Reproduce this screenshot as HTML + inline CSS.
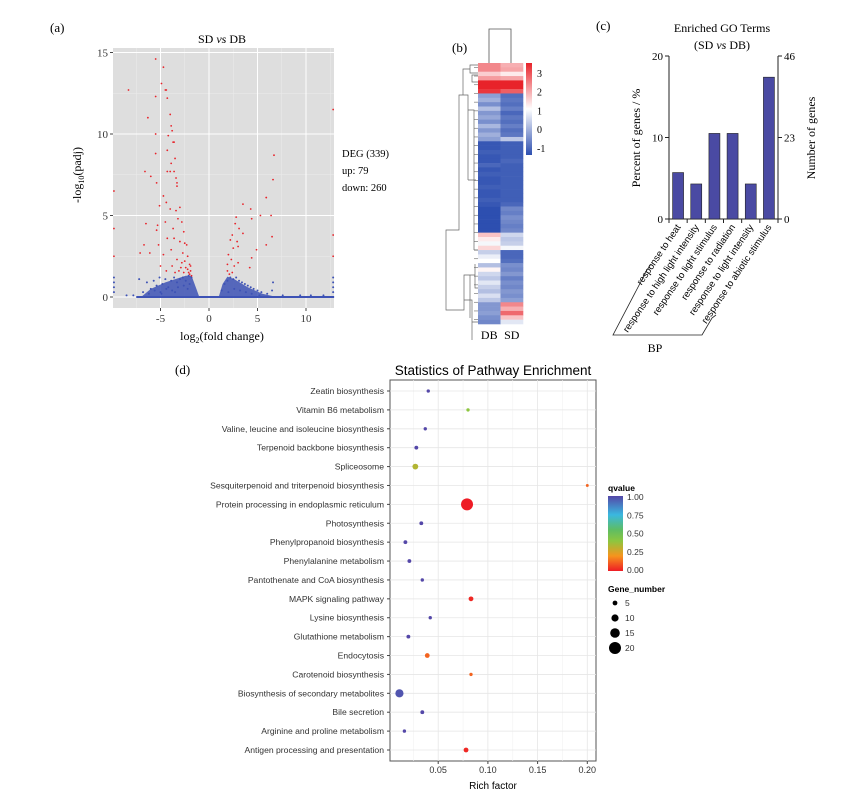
<!DOCTYPE html>
<html><head><meta charset="utf-8"><style>
body{margin:0;background:#fff}
svg{display:block}
.serif{font-family:"Liberation Serif",serif}
.sans{font-family:"Liberation Sans",sans-serif}
</style></head><body>
<svg id="fig" width="843" height="798" viewBox="0 0 843 798" xmlns="http://www.w3.org/2000/svg">
<defs>
<linearGradient id="hmGrad" x1="0" y1="1" x2="0" y2="0">
<stop offset="0" stop-color="#2d4fb0"/><stop offset="0.5" stop-color="#ffffff"/><stop offset="1" stop-color="#e8232a"/>
</linearGradient>
<linearGradient id="qGrad" x1="0" y1="1" x2="0" y2="0">
<stop offset="0" stop-color="#ee1c25"/><stop offset="0.2" stop-color="#f7941d"/><stop offset="0.4" stop-color="#8dc63f"/><stop offset="0.55" stop-color="#5ebd63"/><stop offset="0.75" stop-color="#3ab8e0"/><stop offset="1" stop-color="#5447a8"/>
</linearGradient>
</defs>
<g id="panelA"></g>
<g id="panelB"></g>
<g id="panelC"></g>
<g id="panelD"></g>
</svg>
<script>
// ---------- Volcano data ----------
const volcanoRedX = [-5.5,-4.7,-4.9,-8.3,-4.5,-4.4,-5.5,-4.3,-6.3,-4,-3.9,-3.8,-4.2,-5.5,-3.7,-3.6,-5.5,-4.3,-3.5,-3.9,-6.6,-4.3,-4.0,-3.6,-6,-3.4,-5.4,-3.3,-3.3,-4.7,-4.4,-5.1,-3.0,-4.0,-3.4,-6.5,-5.3,-4.5,-3.2,-2.8,-5.4,-3.7,-2.6,-6.7,-4.3,-3.6,-3.0,-2.5,-2.3,-5.2,-3.9,-2.7,-2.2,-7.1,-6.1,-4.7,-3.3,-2.5,-2.0,-5.0,-3.8,-2.9,-2.2,-1.9,-4.4,-2.6,-2.0,-3.5,-1.8,-9.8,-9.8,-9.8,-2.4,-2.1,-1.9,-2.8,-3.1,
3.5,4.3,2.8,5.3,6.4,2.7,4.4,3.1,2.4,3.5,6.5,2.2,2.9,5.9,3.0,2.5,4.9,2.0,4.4,2.3,3.0,1.9,2.6,4.2,1.9,2.4,6.7,6.6,5.9,12.8,12.8,12.8,2.1];
const volcanoRedY = [14.6,14.1,13.1,12.7,12.7,12.7,12.3,12.2,11,11.2,10.5,10.2,9.9,10,9.5,9.5,8.8,9,8.5,8.2,7.7,7.7,7.7,7.7,7.4,7.3,7,6.8,7,6.2,5.8,5.6,5.5,5.4,5.3,4.5,4.4,4.6,4.8,4.6,4.1,4.2,4,3.2,3.6,3.6,3.4,3.3,3.2,3.2,2.9,2.7,2.5,2.7,2.7,2.6,2.3,2.2,2.0,1.9,1.9,1.8,1.7,1.6,1.6,1.5,1.4,1.5,1.3,6.5,4.2,2.5,1.8,1.5,1.9,2.1,1.6,
5.7,5.4,4.9,5,5,4.5,4.8,4.2,3.8,3.9,3.7,3.5,3.4,3.2,3.1,3,2.9,2.6,2.4,2.3,2.1,2.0,1.9,1.8,1.6,1.5,8.7,7.2,6.1,11.5,3.8,2.5,1.4];
const volcanoBlueX = [-7.2,-6.8,-6.4,-6.0,-5.7,-5.4,-5.1,-4.8,-4.5,-4.2,-3.9,-3.6,-3.3,-3.0,-2.7,-2.4,-2.1,-1.8,-6.2,-5.6,-5.0,-4.4,-3.8,-3.2,-2.6,-2.0,-4.9,-3.5,-2.2,-9.8,-9.8,-9.8,-9.8,-8.5,-7.8,
1.3,1.6,1.9,2.2,2.5,2.8,3.1,3.4,3.7,4.0,4.3,4.6,5.0,5.4,6.0,6.5,2.0,2.6,3.2,3.8,4.4,5.2,6.6,7.6,9.4,10.5,11.8,12.8,12.8,12.8,12.8];
const volcanoBlueY = [1.1,0.3,0.9,0.5,1.0,0.7,1.2,0.8,1.1,0.6,1.0,1.2,0.9,1.1,1.2,1.0,1.3,1.2,0.2,0.4,0.3,0.5,0.4,0.6,0.7,0.8,0.2,0.3,0.5,1.2,0.9,0.6,0.3,0.1,0.1,
0.4,0.8,1.0,1.2,1.1,1.2,1.0,0.9,0.8,0.7,0.6,0.5,0.4,0.3,0.2,0.4,0.3,0.5,0.4,0.3,0.2,0.1,0.9,0.1,0.1,0.1,0.1,1.2,0.9,0.6,0.3];
const volcanoXTicks = [-5,0,5,10];
const volcanoYTicks = [0,5,10,15];

// ---------- Heatmap data ----------
const heatDB = [2.2,2.2,1.5,2.0,3.2,3.2,3.0,-0.2,0.0,-0.4,0.2,-0.3,-0.1,-0.4,0.1,-0.3,0.0,-0.2,-1.1,-1.1,-1.0,-1.1,-1.1,-0.9,-1.1,-1.0,-1.1,-1.1,-1.0,-1.1,-1.1,-1.0,-1.1,-1.3,-1.3,-1.3,-1.3,-1.3,-1.3,1.6,1.2,0.9,1.4,0.4,0.8,1.0,0.2,1.1,0.5,0.3,0.7,0.4,0.2,0.6,0.3,-0.3,-0.3,-0.2,-0.4,-0.5];
const heatSD = [1.8,1.9,1.2,1.9,3.3,3.3,2.6,-0.8,-0.7,-0.8,-0.6,-0.9,-0.7,-0.8,-0.6,-0.8,-0.7,0.3,-1.0,-1.0,-1.0,-1.0,-0.9,-1.0,-1.0,-1.0,-1.0,-1.0,-1.0,-1.0,-1.0,-1.0,-0.9,-0.5,-0.6,-0.4,-0.5,-0.6,-0.5,0.5,0.3,0.4,0.9,-0.9,-0.9,-0.8,-0.4,-0.5,-0.3,-0.6,-0.4,-0.5,-0.3,-0.4,-0.2,2.2,1.8,2.5,1.6,0.7];
const heatCols = ["DB","SD"];
const heatTicks = [3,2,1,0,-1];

// ---------- GO bar data ----------
const goTerms = ["response to heat","response to high light intensity","response to light stimulus","response to radiation","response to light intensity","response to abiotic stimulus"];
const goPercent = [5.7,4.3,10.5,10.5,4.3,17.4];
const goLeftTicks = [0,10,20];
const goRightTicks = ["0","23","46"];

// ---------- Pathway data ----------
const pathNames = ["Zeatin biosynthesis","Vitamin B6 metabolism","Valine, leucine and isoleucine biosynthesis","Terpenoid backbone biosynthesis","Spliceosome","Sesquiterpenoid and triterpenoid biosynthesis","Protein processing in endoplasmic reticulum","Photosynthesis","Phenylpropanoid biosynthesis","Phenylalanine metabolism","Pantothenate and CoA biosynthesis","MAPK signaling pathway","Lysine biosynthesis","Glutathione metabolism","Endocytosis","Carotenoid biosynthesis","Biosynthesis of secondary metabolites","Bile secretion","Arginine and proline metabolism","Antigen processing and presentation"];
const pathRich = [0.040,0.080,0.037,0.028,0.027,0.200,0.079,0.033,0.017,0.021,0.034,0.083,0.042,0.020,0.039,0.083,0.011,0.034,0.016,0.078];
const pathQ = [1.0,0.4,1.0,1.0,0.33,0.12,0.0,1.0,1.0,1.0,1.0,0.02,1.0,1.0,0.12,0.12,0.97,1.0,1.0,0.02];
const pathGenes = [2,2,2,3,7,1,20,3,3,3,2,5,2,3,5,2,12,3,2,5];
const pathXTicks = [0.05,0.10,0.15,0.20];
const pathXTickLabels = ["0.05","0.10","0.15","0.20"];
const qLegendTicks = ["1.00","0.75","0.50","0.25","0.00"];
const geneLegend = [5,10,15,20];

const NS = "http://www.w3.org/2000/svg";
function mk(parent, tag, attrs, text){
  const e = document.createElementNS(NS, tag);
  for (const k in attrs) e.setAttribute(k, attrs[k]);
  if (text !== undefined) e.textContent = text;
  parent.appendChild(e);
  return e;
}
const A = document.getElementById('panelA');
const B = document.getElementById('panelB');
const C = document.getElementById('panelC');
const D = document.getElementById('panelD');

// ================= Panel A: volcano =================
(function(){
  const x0=113,x1=334,y0=48,y1=308;
  const vx = v => 209 + v*9.7;
  const vy = v => 297 - v*16.3;
  let t;
  t = mk(A,'text',{x:50,y:32,'font-size':13,class:'serif'},'(a)');
  
  
  t = mk(A,'text',{x:222,y:43,'font-size':12,'text-anchor':'middle',class:'serif'});
  t.innerHTML = 'SD <tspan font-style="italic">vs</tspan> DB';
  
  
  const bg = mk(A,'rect',{x:x0,y:y0,width:x1-x0,height:y1-y0,fill:'#dedede'});
  
  
  for (let v=-7.5; v<=12.5; v+=5){ mk(A,'line',{x1:vx(v),x2:vx(v),y1:y0,y2:y1,stroke:'#ececec','stroke-width':0.5}); }
  for (let v=2.5; v<=12.5; v+=5){ mk(A,'line',{x1:x0,x2:x1,y1:vy(v),y2:vy(v),stroke:'#ececec','stroke-width':0.5}); }
  volcanoXTicks.forEach(v=>{
    const g = mk(A,'line',{x1:vx(v),x2:vx(v),y1:y0,y2:y1,stroke:'#fff','stroke-width':1});
    
    
    mk(A,'line',{x1:vx(v),x2:vx(v),y1:y1,y2:y1+3,stroke:'#444'});
    const l = mk(A,'text',{x:vx(v),y:y1+14,'font-size':11,'text-anchor':'middle',class:'serif',fill:'#333'},String(v));
    
    
  });
  volcanoYTicks.forEach(v=>{
    const g = mk(A,'line',{x1:x0,x2:x1,y1:vy(v),y2:vy(v),stroke:'#fff','stroke-width':1});
    
    
    mk(A,'line',{x1:x0-3,x2:x0,y1:vy(v),y2:vy(v),stroke:'#444'});
    const l = mk(A,'text',{x:x0-5,y:vy(v)+4,'font-size':11,'text-anchor':'end',class:'serif',fill:'#333'},String(v));
    
    
  });
  const massL = mk(A,'polygon',{points:[[-7,0],[-6,0.5],[-4.5,0.9],[-2.4,1.3],[-1.8,1.3],[-1.3,0.5],[-1.0,0]].map(p=>vx(p[0])+','+vy(p[1])).join(' '),fill:'#3d52b5','fill-opacity':0.85});
  
  
  const massR = mk(A,'polygon',{points:[[1.0,0],[1.4,0.8],[1.9,1.25],[2.6,1.1],[4,0.6],[5.5,0.2],[7,0]].map(p=>vx(p[0])+','+vy(p[1])).join(' '),fill:'#3d52b5','fill-opacity':0.85});
  
  
  const base = mk(A,'line',{x1:vx(-7.5),x2:vx(12.9),y1:vy(0),y2:vy(0),stroke:'#3d52b5','stroke-width':2});
  
  
  volcanoBlueX.forEach((v,i)=>{
    const c = mk(A,'circle',{cx:vx(v),cy:vy(volcanoBlueY[i]),r:1,fill:'#3d52b5'});
    
    
  });
  volcanoRedX.forEach((v,i)=>{
    const c = mk(A,'circle',{cx:vx(v),cy:vy(volcanoRedY[i]),r:0.9,fill:'#e8232a'});
    
    
  });
  t = mk(A,'text',{x:0,y:0,'font-size':12,'text-anchor':'middle',class:'serif',transform:'translate(81,175) rotate(-90)'});
  t.innerHTML='-log<tspan font-size="8" dy="3">10</tspan><tspan dy="-3">(padj)</tspan>';
  
  
  t = mk(A,'text',{x:222,y:340,'font-size':12,'text-anchor':'middle',class:'serif'});
  t.innerHTML='log<tspan font-size="8" dy="3">2</tspan><tspan dy="-3">(fold change)</tspan>';
  
  
  [['DEG (339)',157],['up: 79',174],['down: 260',191]].forEach(a=>{
    const l = mk(A,'text',{x:342,y:a[1],'font-size':10.5,class:'serif'},a[0]);
    
    
  });
})();

// ================= Panel B: heatmap =================
(function(){
  let t = mk(B,'text',{x:452,y:52,'font-size':13,class:'serif'},'(b)');
  
  
  const hx=478, cw=22.5, hy=63, rh=261/heatDB.length;
  function col(v){
    const f = Math.max(0,Math.min(1,(v+1.2)/4.4));
    const lo=[45,79,176], mid=[255,255,255], hi=[232,35,42];
    let a,b,u;
    if (f<0.5){a=lo;b=mid;u=f/0.5;} else {a=mid;b=hi;u=(f-0.5)/0.5;}
    return 'rgb('+a.map((c,i)=>Math.round(c+(b[i]-c)*u)).join(',')+')';
  }
  [heatDB,heatSD].forEach((arr,j)=>{
    arr.forEach((v,i)=>{
      const r = mk(B,'rect',{x:hx+j*cw,y:hy+i*rh,width:cw+0.3,height:rh+0.3,fill:col(v)});
      
      
    });
  });
  heatCols.forEach((c,j)=>{
    const l = mk(B,'text',{x:hx+j*cw+cw/2,y:339,'font-size':12,'text-anchor':'middle',class:'serif'},c);
    
    
  });
  const cd = mk(B,'path',{d:'M489,63 V29 H511 V63',fill:'none',stroke:'#555','stroke-width':0.8});
  
  
  const rd = mk(B,'path',{d:'M478,65 H470 V73 H478 M470,69 H463 V95 H468 V180 M478,75 H472 V82 H478 M463,95 H459 V230 H446 V310 H459 M468,110 H474 V250 M468,180 H471 M474,250 H478 M471,180 H476 M459,310 H464 V275 H470 V318 M464,300 H472 V340 M472,322 H478 M470,275 H475 M475,264 V288 H478',fill:'none',stroke:'#666','stroke-width':0.7});
  
  
  for (let i=0;i<heatDB.length;i+=2){ mk(B,'line',{x1:474,x2:478,y1:hy+i*rh+rh,y2:hy+i*rh+rh,stroke:'#666','stroke-width':0.6}); }
  const cb = mk(B,'rect',{x:526,y:63,width:6,height:92,fill:'url(#hmGrad)'});
  
  
  heatTicks.forEach(v=>{
    const y = 148 - (v+1)*18.8;
    const l = mk(B,'text',{x:537,y:y+4,'font-size':10,class:'serif'},String(v));
    
    
  });
})();

// ================= Panel C: GO bar chart =================
(function(){
  let t = mk(C,'text',{x:596,y:30,'font-size':13,class:'serif'},'(c)');
  
  
  t = mk(C,'text',{x:722,y:32,'font-size':12,'text-anchor':'middle',class:'serif'},'Enriched GO Terms');
  
  
  t = mk(C,'text',{x:722,y:49,'font-size':12,'text-anchor':'middle',class:'serif'});
  t.innerHTML='(SD <tspan font-style="italic">vs</tspan> DB)';
  
  
  const ax0=669, ax1=778, y0=219, yTop=56;
  const py = v => y0 - v/20*(y0-yTop);
  const bw = (ax1-ax0)/goTerms.length;
  mk(C,'line',{x1:ax0,x2:ax0,y1:yTop,y2:y0,stroke:'#222'});
  mk(C,'line',{x1:ax1,x2:ax1,y1:yTop,y2:y0,stroke:'#222'});
  mk(C,'line',{x1:ax0,x2:ax1,y1:y0,y2:y0,stroke:'#222'});
  goLeftTicks.forEach(v=>{
    mk(C,'line',{x1:ax0-4,x2:ax0,y1:py(v),y2:py(v),stroke:'#222'});
    const l = mk(C,'text',{x:ax0-6,y:py(v)+4,'font-size':11,'text-anchor':'end',class:'serif'},String(v));
    
    
  });
  goRightTicks.forEach((s,i)=>{
    const y = py(i*10);
    mk(C,'line',{x1:ax1,x2:ax1+4,y1:y,y2:y,stroke:'#222'});
    const l = mk(C,'text',{x:ax1+6,y:y+4,'font-size':11,class:'serif'},s);
    
    
  });
  goTerms.forEach((name,i)=>{
    const cx = ax0 + bw*(i+0.5);
    const r = mk(C,'rect',{x:cx-5.5,y:py(goPercent[i]),width:11,height:y0-py(goPercent[i]),fill:'#4a4aa3',stroke:'#222','stroke-width':0.6});
    
    
    mk(C,'line',{x1:ax0+bw*i,x2:ax0+bw*i,y1:y0,y2:y0+4,stroke:'#222'});
    const l = mk(C,'text',{x:0,y:0,'font-size':9.5,'text-anchor':'end',class:'sans',transform:'translate('+(cx+3)+','+(y0+8)+') rotate(-56)'},name);
    
    
  });
  mk(C,'line',{x1:ax1,x2:ax1,y1:y0,y2:y0+4,stroke:'#222'});
  const br = mk(C,'polyline',{points:'651,264 647,270 613,335 702,335 712,318 716,315',fill:'none',stroke:'#222','stroke-width':0.8});
  
  
  t = mk(C,'text',{x:655,y:352,'font-size':12,'text-anchor':'middle',class:'serif'},'BP');
  
  
  t = mk(C,'text',{x:0,y:0,'font-size':12,'text-anchor':'middle',class:'serif',transform:'translate(640,138) rotate(-90)'},'Percent of genes / %');
  
  
  t = mk(C,'text',{x:0,y:0,'font-size':12,'text-anchor':'middle',class:'serif',transform:'translate(815,138) rotate(-90)'},'Number of genes');
  
  
})();

// ================= Panel D: bubble chart =================
(function(){
  let t = mk(D,'text',{x:175,y:374,'font-size':13,class:'serif'},'(d)');
  
  
  t = mk(D,'text',{x:493,y:375,'font-size':13.5,'text-anchor':'middle',class:'sans'},'Statistics of Pathway Enrichment');
  
  
  const x0=390,x1=596,y0=380,y1=761;
  const rx = v => 388.5 + v*994;
  const ry = i => 391 + i*(750-391)/(pathNames.length-1);
  const rr = g => 1.2 + g*0.24;
  const panel = mk(D,'rect',{x:x0,y:y0,width:x1-x0,height:y1-y0,fill:'#fff',stroke:'#555','stroke-width':1});
  
  
  for (let v=0.025; v<0.21; v+=0.05){ mk(D,'line',{x1:rx(v),x2:rx(v),y1:y0,y2:y1,stroke:'#f2f2f2','stroke-width':0.6}); }
  pathXTicks.forEach((v,i)=>{
    const g = mk(D,'line',{x1:rx(v),x2:rx(v),y1:y0,y2:y1,stroke:'#e6e6e6','stroke-width':0.8});
    
    
    mk(D,'line',{x1:rx(v),x2:rx(v),y1:y1,y2:y1+3,stroke:'#444'});
    const l = mk(D,'text',{x:rx(v),y:y1+12,'font-size':9,'text-anchor':'middle',class:'sans',fill:'#333'},pathXTickLabels[i]);
    
    
  });
  function qcol(q){
    const stops=[[0,[238,28,37]],[0.2,[247,148,29]],[0.4,[141,198,63]],[0.55,[94,189,99]],[0.75,[58,184,224]],[1,[84,71,168]]];
    for (let k=1;k<stops.length;k++){
      if (q<=stops[k][0]){
        const a=stops[k-1],b=stops[k],u=(q-a[0])/(b[0]-a[0]);
        return 'rgb('+a[1].map((c,i)=>Math.round(c+(b[1][i]-c)*u)).join(',')+')';
      }
    }
    return 'rgb(84,71,168)';
  }
  pathNames.forEach((n,i)=>{
    const y = ry(i);
    const g = mk(D,'line',{x1:x0,x2:x1,y1:y,y2:y,stroke:'#e6e6e6','stroke-width':0.8});
    
    
    mk(D,'line',{x1:x0-3,x2:x0,y1:y,y2:y,stroke:'#444'});
    const l = mk(D,'text',{x:x0-6,y:y+3,'font-size':8.6,'text-anchor':'end',class:'sans',fill:'#333'},n);
    
    
  });
  pathNames.forEach((n,i)=>{
    const c = mk(D,'circle',{cx:rx(pathRich[i]),cy:ry(i),r:rr(pathGenes[i]),fill:qcol(pathQ[i])});
    
    
  });
  t = mk(D,'text',{x:493,y:789,'font-size':10,'text-anchor':'middle',class:'sans'},'Rich factor');
  
  
  t = mk(D,'text',{x:608,y:491,'font-size':8.5,'font-weight':'bold',class:'sans'},'qvalue');
  
  
  const qb = mk(D,'rect',{x:608,y:496,width:15,height:75,fill:'url(#qGrad)'});
  
  
  qLegendTicks.forEach((s,i)=>{
    const y = 497 + i*18.3;
    const l = mk(D,'text',{x:627,y:y+3,'font-size':8.5,class:'sans',fill:'#333'},s);
    
    
  });
  t = mk(D,'text',{x:608,y:592,'font-size':8.5,'font-weight':'bold',class:'sans'},'Gene_number');
  
  
  geneLegend.forEach((g,i)=>{
    const y = 603 + i*15;
    const c = mk(D,'circle',{cx:615,cy:y,r:rr(g),fill:'#000'});
    
    
    const l = mk(D,'text',{x:625,y:y+3,'font-size':8.5,class:'sans',fill:'#333'},String(g));
    
    
  });
})();
</script>
</body></html>
